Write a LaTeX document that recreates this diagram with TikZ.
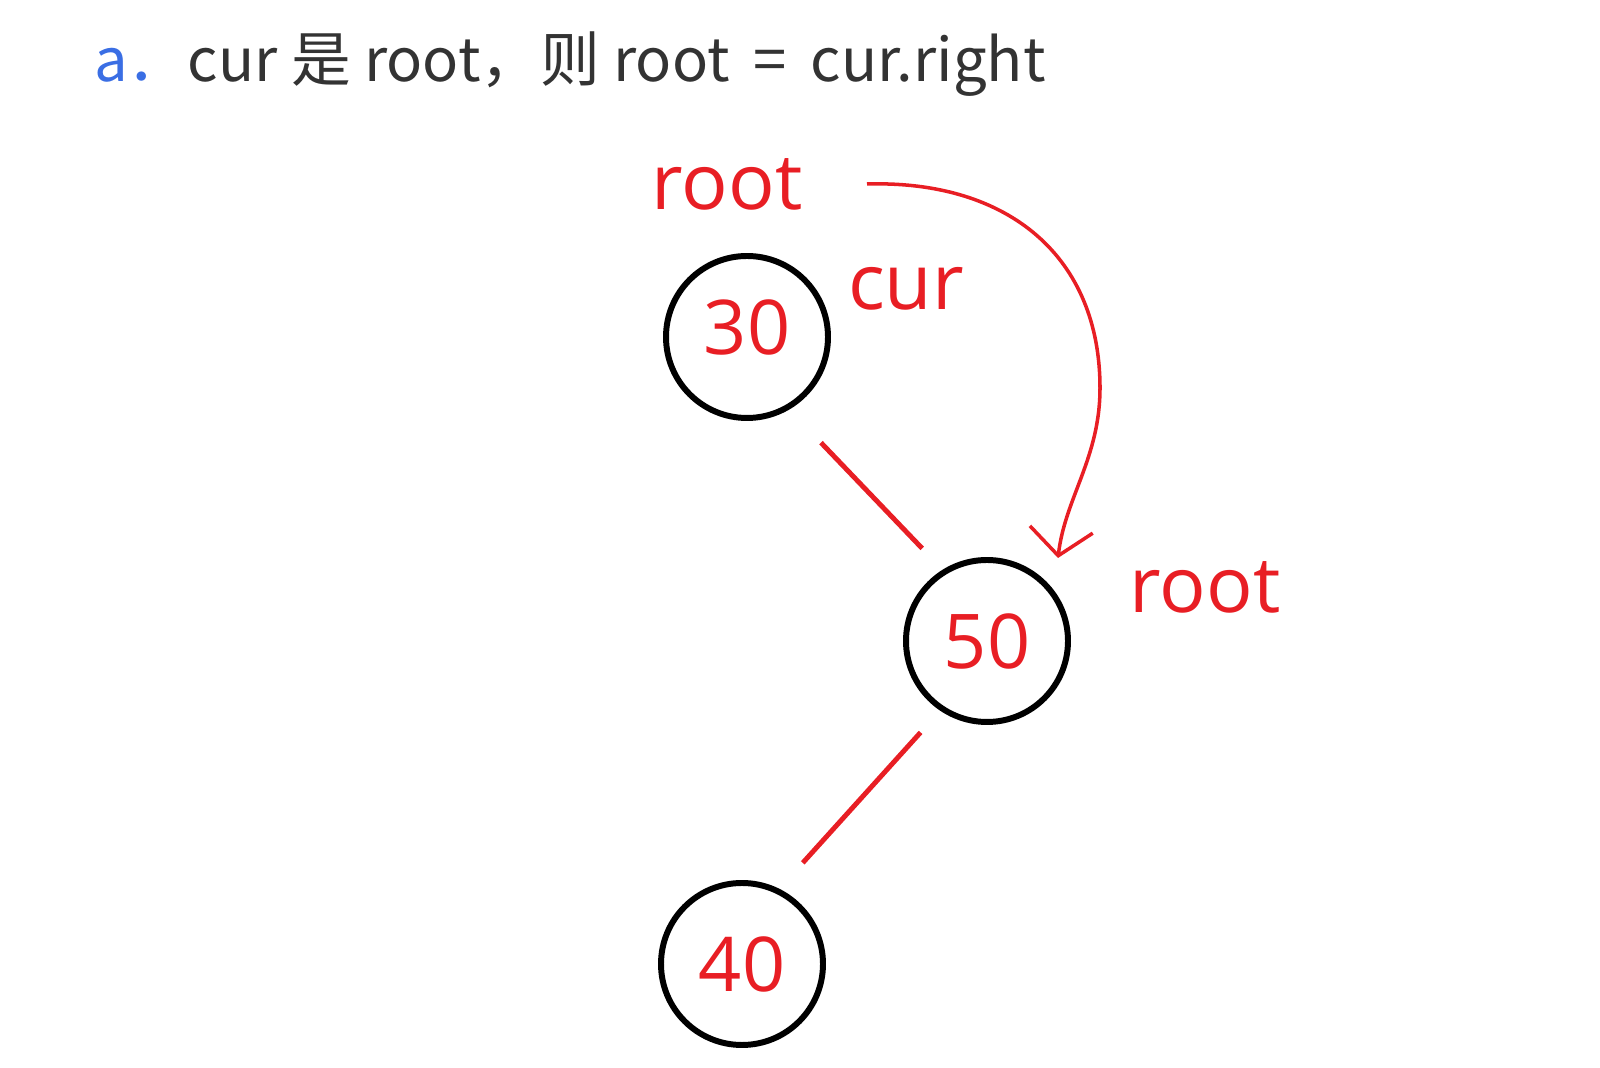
\documentclass[tikz,border=0pt]{standalone}
\usepackage{fontspec}
\setmainfont{Open Sans}
\newfontfamily\cjk{Noto Sans CJK SC}
\usepackage{xcolor}
\usepackage{tikz}
\usetikzlibrary{arrows.meta}

\definecolor{penred}{RGB}{232,30,36}
\definecolor{headgray}{RGB}{51,51,51}
\definecolor{headblue}{RGB}{58,110,228}

\tikzset{
	treenode/.style={draw=black, line width=3.4pt, circle, minimum size=3.24cm, inner sep=0pt, text=penred, font=\fontsize{43}{52}\selectfont},
	edge/.style={draw=penred, line width=2.8pt},
	pointer/.style={text=penred, font=\fontsize{44}{53}\selectfont, inner sep=0pt},
	moveline/.style={draw=penred, line width=2pt, -{Straight Barb[length=15pt, width=36pt, line width=2pt]}}
}

\begin{document}
\begin{tikzpicture}
	\useasboundingbox (0, 0) rectangle (32, 21.36);
	% Heading:
	\node[anchor=base west, inner sep=0pt, text=headgray, font=\cjk\fontsize{34}{40}\selectfont] (heading) at (1.88, 19.72){\textcolor{headblue}{a．}cur 是 root，则 root\hspace{6pt} = \hspace{6pt}cur.right};
	% Nodes and edges:
	\node[treenode, text depth=11pt] (n30) at (14.94, 14.62){30};
	\node[treenode] (n50) at (19.74, 8.54){50};
	\node[treenode] (n40) at (14.84, 2.08){40};
	\draw[edge] ([shift={(-55:0.9cm)}]n30.-55) -- ([shift={(125:0.58cm)}]n50.125);
	\draw[edge] ([shift={(234:0.58cm)}]n50.234) -- ([shift={(59:0.68cm)}]n40.59);
	% Pointer labels:
	\node[pointer] (oldroot) at (14.54, 17.68){root};
	\node[pointer] (cur) at (18.12, 15.58){cur};
	\node[pointer] (newroot) at (24.10, 9.62){root};
	% root moves to cur.right:
	\coordinate (movestart) at (17.34, 17.68);
	\coordinate (moveend) at (21.16, 10.20);
	\draw[moveline] (movestart) .. controls (20.2, 17.76) and (22.0, 16.2) .. (22.0, 13.6) .. controls (22.0, 12.2) and (21.3, 11.4) .. (moveend);
\end{tikzpicture}
\end{document}
